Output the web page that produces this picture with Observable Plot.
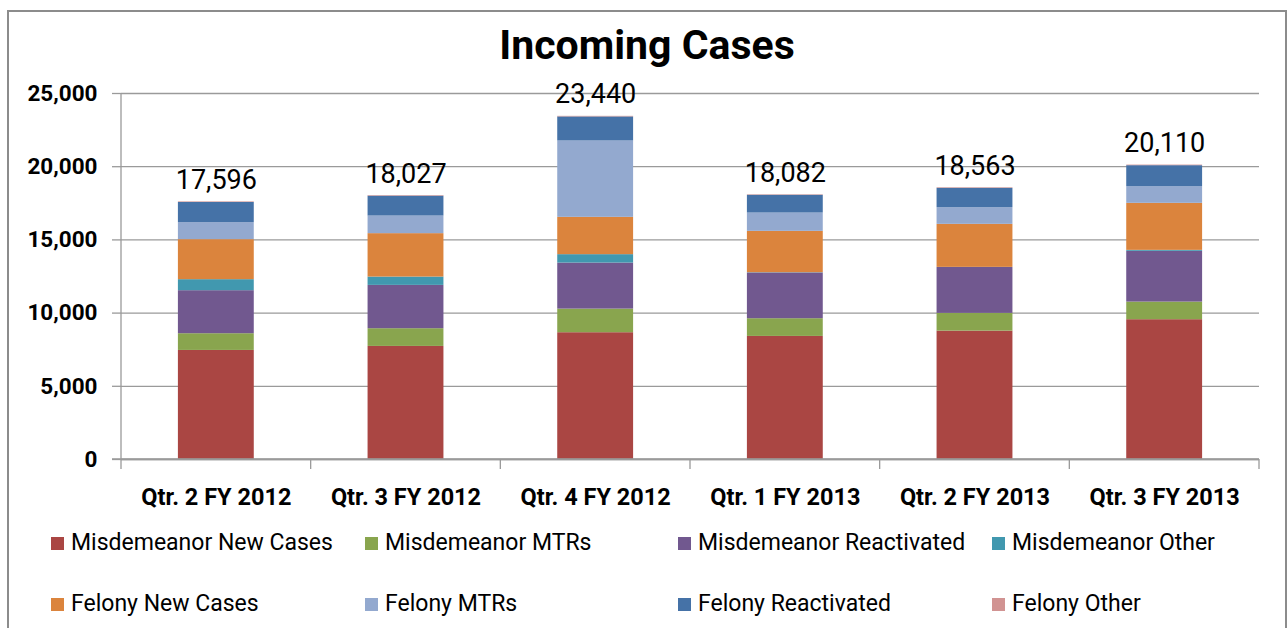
<!DOCTYPE html>
<html>
<head>
<meta charset="utf-8">
<script src="https://cdn.jsdelivr.net/npm/d3@7"></script>
<script src="https://cdn.jsdelivr.net/npm/@observablehq/plot@0.6"></script>
<style>
  body { margin: 0; background: #fff; }
  #frame { position: relative; width: 1288px; height: 628px; overflow: hidden; background: #fff;
           font-family: "Roboto", sans-serif; color: #000; }
  #border { position: absolute; left: 7px; top: 10px; width: 1280px; height: 640px;
            border: 2px solid #8c8c8c; box-sizing: border-box; }
  #title { position: absolute; left: 7px; width: 1280px; top: 20px; text-align: center;
           font-weight: bold; font-size: 41px; line-height: 50px; }
  #chart { position: absolute; left: 0; top: 0; }
  .leg { position: absolute; display: flex; align-items: center; font-size: 23px; line-height: 30px; white-space: nowrap; }
  .sw { width: 13px; height: 13px; margin-right: 7px; }
</style>
</head>
<body>
<div id="frame">
  <div id="border"></div>
  <div id="title">Incoming Cases</div>
  <div id="chart"></div>
</div>
<script>
// ---- data ----
const quarters = ["Qtr. 2 FY 2012", "Qtr. 3 FY 2012", "Qtr. 4 FY 2012", "Qtr. 1 FY 2013", "Qtr. 2 FY 2013", "Qtr. 3 FY 2013"];
const seriesNames = ["Misdemeanor New Cases", "Misdemeanor MTRs", "Misdemeanor Reactivated", "Misdemeanor Other",
                     "Felony New Cases", "Felony MTRs", "Felony Reactivated", "Felony Other"];
const misdemeanorNew         = [7450, 7724, 8660, 8407, 8770, 9549];
const misdemeanorMTRs        = [1142, 1210, 1613, 1210, 1210, 1203];
const misdemeanorReactivated = [2939, 2959, 3145, 3124, 3134, 3468];
const misdemeanorOther       = [752, 568, 574, 20, 10, 66];
const felonyNew              = [2734, 2966, 2549, 2823, 2939, 3212];
const felonyMTRs             = [1163, 1203, 5216, 1251, 1141, 1142];
const felonyReactivated      = [1376, 1357, 1643, 1212, 1319, 1430];
const felonyOther            = [40, 40, 40, 35, 40, 40];
const totalLabels            = [17596, 18027, 23440, 18082, 18563, 20110];
const yTicks                 = [0, 5000, 10000, 15000, 20000, 25000];

const seriesValues = [misdemeanorNew, misdemeanorMTRs, misdemeanorReactivated, misdemeanorOther,
                      felonyNew, felonyMTRs, felonyReactivated, felonyOther];
const colors = ["#AA4643", "#89A54E", "#71588F", "#4198AF", "#DB843D", "#93A9CF", "#4572A7", "#D19392"];

const rows = [];
seriesNames.forEach((s, i) => quarters.forEach((q, j) => rows.push({quarter: q, series: s, value: seriesValues[i][j]})));
const totals = quarters.map((q, j) => ({quarter: q, total: totalLabels[j]}));

const fontFam = '"Roboto", sans-serif';
const W = 1288, H = 520;

const chart = Plot.plot({
  width: W, height: H,
  marginLeft: 121, marginRight: 29, marginTop: 93, marginBottom: 61,
  style: {fontFamily: fontFam, background: "transparent", overflow: "visible"},
  x: {domain: quarters, paddingInner: 0.6, paddingOuter: 0.3, round: false, label: null},
  y: {domain: [0, 25000], label: null},
  color: {domain: seriesNames, range: colors},
  marks: [
    Plot.gridY(yTicks, {stroke: "#9a9a9a", strokeOpacity: 1, strokeWidth: 1.3}),
    Plot.axisY(yTicks, {tickFormat: d3.format(","), tickSize: 9, tickPadding: 15, fontSize: 22.5, fontWeight: "bold",
                        stroke: "#9a9a9a", strokeWidth: 1.3, fill: "#000", label: null}),
    Plot.barY(rows, {x: "quarter", y: "value", fill: "series"}),
    Plot.ruleY([0], {stroke: "#9a9a9a", strokeWidth: 1.3}),
    Plot.text(totals, {x: "quarter", y: "total", text: d => d3.format(",")(d.total), lineAnchor: "bottom", dy: -13,
                       fontSize: 27, fill: "#000"}),
    Plot.axisX({tickSize: 0, tickPadding: 29, fontSize: 23.5, fontWeight: "bold", fill: "#000", label: null})
  ]
});
document.getElementById("chart").appendChild(chart);

// axis lines and category boundary ticks, from Plot's own scales
const xs = chart.scale("x"), ys = chart.scale("y");
const svg = d3.select(chart);
const gap = (xs.step - xs.bandwidth) / 2;
const bounds = quarters.map(q => xs.apply(q) - gap);
bounds.push(xs.apply(quarters[quarters.length - 1]) + xs.bandwidth + gap);
const y0 = ys.apply(0), yTop = ys.apply(25000);
const g = svg.append("g").attr("stroke", "#9a9a9a").attr("stroke-width", 1.3);
g.append("line").attr("x1", bounds[0]).attr("x2", bounds[0]).attr("y1", yTop).attr("y2", y0 + 10);
g.append("line").attr("x1", bounds[0] - 9).attr("x2", bounds[bounds.length - 1]).attr("y1", y0).attr("y2", y0);
bounds.slice(1).forEach(b => g.append("line").attr("x1", b).attr("x2", b).attr("y1", y0).attr("y2", y0 + 10));

// legend (two rows of four)
const frame = document.getElementById("frame");
const colX = [51, 365, 678, 992], rowY = [528, 589];
seriesNames.forEach((s, i) => {
  const d = document.createElement("div");
  d.className = "leg";
  d.style.left = colX[i % 4] + "px";
  d.style.top = rowY[Math.floor(i / 4)] + "px";
  d.innerHTML = `<div class="sw" style="background:${colors[i]}"></div><span>${s}</span>`;
  frame.appendChild(d);
});
</script>
</body>
</html>
